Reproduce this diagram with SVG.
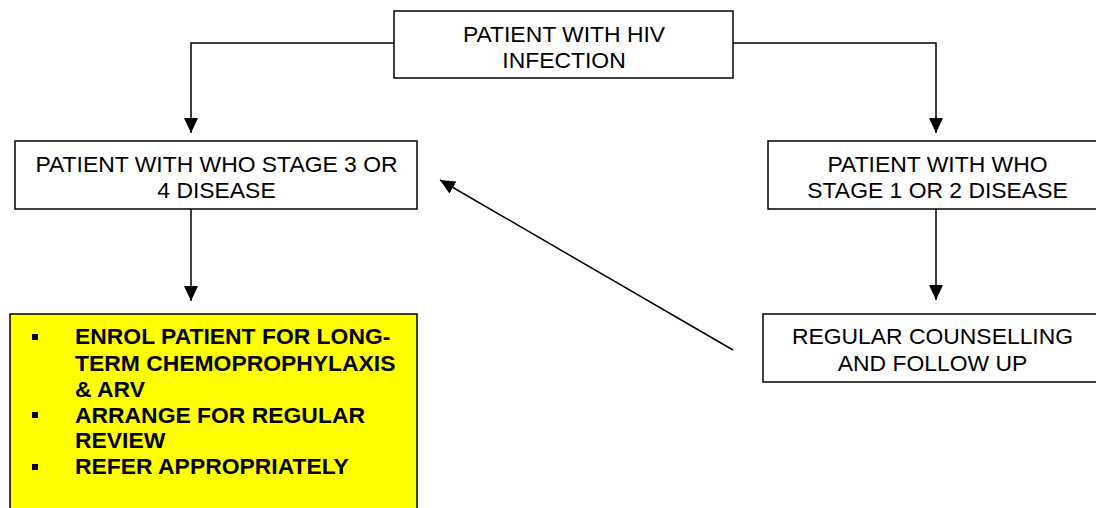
<svg xmlns="http://www.w3.org/2000/svg" width="1096" height="508" viewBox="0 0 1096 508">
<style>
.box{fill:#fff;stroke:#000;stroke-width:1.5}
.yel{fill:#ffff00;stroke:#000;stroke-width:1.5}
.t{font-family:"Liberation Sans",Arial,sans-serif;font-size:22.9px;fill:#000;text-anchor:middle}
.b{font-family:"Liberation Sans",Arial,sans-serif;font-size:22.9px;font-weight:bold;fill:#000}
.c{fill:none;stroke:#000;stroke-width:1.5}
</style>
<defs>
<marker id="ah" markerWidth="15" markerHeight="14" refX="15" refY="7" orient="auto" markerUnits="userSpaceOnUse">
<path d="M0,0 L15,7 L0,14 Z" fill="#000"/>
</marker>
</defs>
<rect width="1096" height="508" fill="#fff"/>
<g id="connectors">
<path class="c" d="M394,43 H191 V133" marker-end="url(#ah)"/>
<path class="c" d="M733,43 H936 V133" marker-end="url(#ah)"/>
<path class="c" d="M191,209 V301" marker-end="url(#ah)"/>
<path class="c" d="M936,209 V300" marker-end="url(#ah)"/>
<path class="c" d="M733,350 L440,180" marker-end="url(#ah)"/>
</g>
<g id="node-hiv">
<rect class="box" x="394" y="11" width="339" height="67"/>
<text class="t" x="564" y="41.5">PATIENT WITH HIV</text>
<text class="t" x="564" y="67.5">INFECTION</text>
</g>
<g id="node-stage34">
<rect class="box" x="15" y="141" width="402" height="68"/>
<text class="t" x="216.5" y="172">PATIENT WITH WHO STAGE 3 OR</text>
<text class="t" x="216.5" y="198">4 DISEASE</text>
</g>
<g id="node-stage12">
<rect class="box" x="768" y="141" width="339" height="68"/>
<text class="t" x="937.5" y="172">PATIENT WITH WHO</text>
<text class="t" x="937.5" y="198">STAGE 1 OR 2 DISEASE</text>
</g>
<g id="node-counselling">
<rect class="box" x="763" y="314" width="339" height="68"/>
<text class="t" x="932.5" y="344">REGULAR COUNSELLING</text>
<text class="t" x="932.5" y="371">AND FOLLOW UP</text>
</g>
<g id="node-actions">
<rect class="yel" x="10" y="314" width="407" height="210"/>
<rect x="32" y="334" width="6" height="6" fill="#000"/>
<rect x="32" y="412" width="6" height="6" fill="#000"/>
<rect x="32" y="464" width="6" height="6" fill="#000"/>
<text class="b" x="75" y="344">ENROL PATIENT FOR LONG-</text>
<text class="b" x="75" y="371">TERM CHEMOPROPHYLAXIS</text>
<text class="b" x="75" y="397">&amp; ARV</text>
<text class="b" x="75" y="423">ARRANGE FOR REGULAR</text>
<text class="b" x="75" y="448">REVIEW</text>
<text class="b" x="75" y="474">REFER APPROPRIATELY</text>
</g>
</svg>
